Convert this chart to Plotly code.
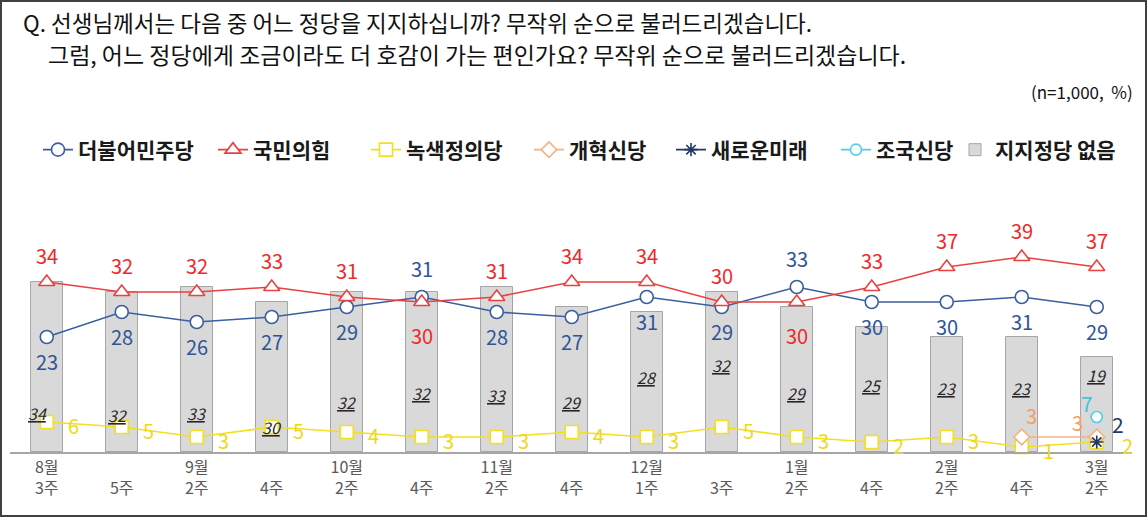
import plotly.graph_objects as go

# --- data ---
weeks = ["8월<br>3주", "<br>5주", "9월<br>2주", "<br>4주", "10월<br>2주", "<br>4주",
         "11월<br>2주", "<br>4주", "12월<br>1주", "<br>3주", "1월<br>2주", "<br>4주",
         "2월<br>2주", "<br>4주", "3월<br>2주"]
no_party = [34, 32, 33, 30, 32, 32, 33, 29, 28, 32, 29, 25, 23, 23, 19]
democratic = [23, 28, 26, 27, 29, 31, 28, 27, 31, 29, 33, 30, 30, 31, 29]
ppp = [34, 32, 32, 33, 31, 30, 31, 34, 34, 30, 30, 33, 37, 39, 37]
green_justice = [6, 5, 3, 5, 4, 3, 3, 4, 3, 5, 3, 2, 3, 1, 2]
reform = [None] * 13 + [3, 3]
new_future = [None] * 14 + [2]
cho_kuk = [None] * 14 + [7]

# label placement (where the reference prints each number)
dem_label_above = [5, 10]
ppp_label_below = [5, 10]
no_party_label_y = [7.8, 7.4, 7.8, 5, 10, 11.8, 11.4, 10, 15, 17.4, 11.8, 13.4, 12.8, 12.8, 15.4]
no_party_label_dx = [-9, -4, 0, 0, 0, 0, 0, 0, 0, 0, 0, 0, 0, 0, 0]

x = list(range(len(weeks)))

W, H = 1147, 517
L, R, T, B = 10, 15, 232, 65
PW, PH = W - L - R, H - T - B
FONT = "Noto Sans CJK KR"


def px(xp):
    return (xp - L) / PW


def py(yp):
    return (H - B - yp) / PH


BLUE, RED, YELLOW = "#3a5fa0", "#e8413f", "#f2df1e"
ORANGE, NAVY, CYAN = "#f4b183", "#1f3864", "#4fd0e2"

# left edge (px) of each legend entry, one legend per party like the reference row
legend_left = [38, 213, 366, 529, 671, 836, 955]

fig = go.Figure()


def line(vals, name, color, symbol, size, leg, fill="white"):
    fig.add_trace(go.Scatter(
        x=x, y=vals, name=name, mode="lines+markers",
        line=dict(color=color, width=1.6),
        marker=dict(symbol=symbol, size=size, color=fill,
                    line=dict(color=color, width=1.6)),
        legend=leg, cliponaxis=False,
    ))


fig.add_trace(go.Bar(
    x=x, y=no_party, name="지지정당 없음", width=0.42,
    marker=dict(color="#d9d9d9", line=dict(color="#a6a6a6", width=1)),
    legend="legend7",
))
line(democratic, "더불어민주당", BLUE, "circle", 13, "legend")
line(ppp, "국민의힘", RED, "triangle-up", 14, "legend2")
line(green_justice, "녹색정의당", YELLOW, "square", 13, "legend3")
line(reform, "개혁신당", ORANGE, "diamond", 12, "legend4")
line(new_future, "새로운미래", NAVY, "asterisk-open", 11, "legend5", fill=NAVY)
line(cho_kuk, "조국신당", CYAN, "circle", 11, "legend6")

ann = []


def lab(xv, yv, text, color, dx=0, dy=0, size=20):
    ann.append(dict(x=xv, y=yv, text=text, showarrow=False, xshift=dx, yshift=dy,
                    font=dict(family=FONT, size=size, color=color)))


for i, v in enumerate(democratic):
    lab(i, v, str(v), "#2f5597", dy=29 if i in dem_label_above else -24)
for i, v in enumerate(ppp):
    lab(i, v, str(v), "#ee2a2a", dy=-33 if i in ppp_label_below else 27)
for i, v in enumerate(green_justice):
    lab(i, v, str(v), "#efd81a", dx=27 if i < 14 else 31, dy=-3)
for i, v in enumerate(no_party):
    lab(i, no_party_label_y[i], "<i><u>%d</u></i>" % v, "#262626",
        dx=no_party_label_dx[i], size=16)
for i, v in enumerate(reform):
    if v is not None:
        lab(i, v, str(v), "#f2a062", dx=-19 if i == 14 else 10, dy=15 if i == 14 else 22)
for i, v in enumerate(new_future):
    if v is not None:
        lab(i, v, str(v), NAVY, dx=21, dy=18, size=21)
for i, v in enumerate(cho_kuk):
    if v is not None:
        lab(i, v, str(v), "#3cc6dc", dx=-10, dy=14, size=21)

# header texts
ann.append(dict(xref="paper", yref="paper", x=px(21), y=py(22), xanchor="left", yanchor="middle",
                text="Q. 선생님께서는 다음 중 어느 정당을 지지하십니까? 무작위 순으로 불러드리겠습니다.",
                showarrow=False, font=dict(family=FONT, size=22.5, color="#111111")))
ann.append(dict(xref="paper", yref="paper", x=px(46), y=py(54), xanchor="left", yanchor="middle",
                text="그럼, 어느 정당에게 조금이라도 더 호감이 가는 편인가요? 무작위 순으로 불러드리겠습니다.",
                showarrow=False, font=dict(family=FONT, size=23, color="#111111")))
ann.append(dict(xref="paper", yref="paper", x=px(1135), y=py(92), xanchor="right", yanchor="middle",
                text="(n=1,000,  %)", showarrow=False,
                font=dict(family=FONT, size=17, color="#111111")))

legends = {}
for k, left in enumerate(legend_left):
    key = "legend" if k == 0 else "legend%d" % (k + 1)
    legends[key] = dict(orientation="h", x=px(left), y=py(150), xanchor="left", yanchor="middle",
                        font=dict(family=FONT, size=21, color="#1a1a1a", weight="bold"),
                        itemwidth=30, bgcolor="rgba(0,0,0,0)")

fig.update_layout(
    width=W, height=H,
    margin=dict(l=L, r=R, t=T, b=B),
    paper_bgcolor="white", plot_bgcolor="white",
    font=dict(family=FONT),
    annotations=ann,
    showlegend=True,
    xaxis=dict(range=[-0.49, 14.47], tickvals=x, ticktext=weeks, showline=True,
               linecolor="#a6a6a6", linewidth=2, ticks="", showgrid=False, zeroline=False,
               tickfont=dict(family=FONT, size=16, color="#595959")),
    yaxis=dict(range=[0, 44], visible=False),
    shapes=[dict(type="rect", xref="paper", yref="paper", x0=px(1), x1=px(1146),
                 y0=py(516), y1=py(1), line=dict(color="#404040", width=2))],
    bargap=0,
    **legends,
)

fig.write_html("out.html", config={"displayModeBar": False},
               post_script="document.body.style.margin='0px';")
